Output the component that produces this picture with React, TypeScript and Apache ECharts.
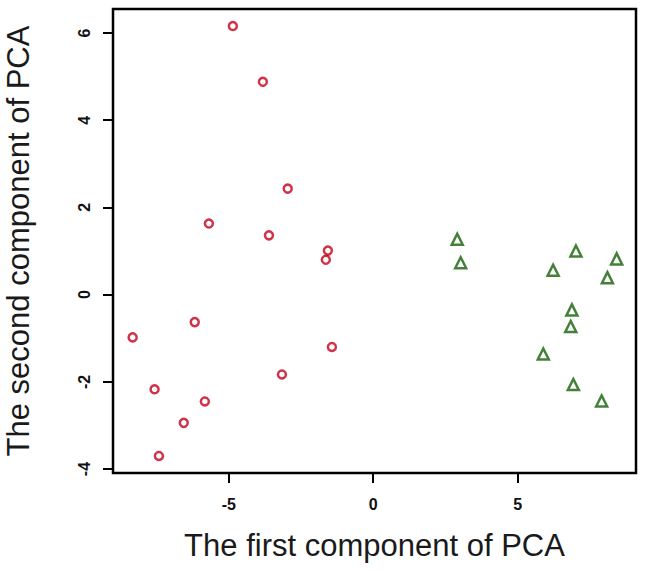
import React, { useEffect, useRef } from "react";
import * as echarts from "echarts";

const groupAX = [-4.86, -3.82, -2.96, -5.69, -3.61, -1.57, -1.64, -6.18, -8.33, -1.43, -3.16, -7.57, -5.83, -6.56, -7.42];
const groupAY = [6.16, 4.88, 2.43, 1.63, 1.36, 1.01, 0.8, -0.63, -0.98, -1.2, -1.83, -2.17, -2.45, -2.94, -3.7];

const groupBX = [2.91, 3.03, 7.02, 8.43, 6.23, 8.11, 6.88, 6.84, 5.89, 6.93, 7.91];
const groupBY = [1.27, 0.73, 1.0, 0.82, 0.56, 0.39, -0.35, -0.73, -1.36, -2.06, -2.44];

const xTicks = [-5, 0, 5];
const yTicks = [-4, -2, 0, 2, 4, 6];

const xName = "The first component of PCA";
const yName = "The second component of PCA";

export default function App() {
  const ref = useRef<HTMLDivElement>(null);
  useEffect(() => {
    if (!ref.current) return;
    const chart = echarts.init(ref.current, undefined, { renderer: "svg" });
    const font = "'Liberation Sans', Arial, Helvetica, sans-serif";
    chart.setOption({
      animation: false,
      backgroundColor: "#ffffff",
      grid: {
        left: 113,
        right: 10,
        top: 9,
        bottom: 98,
        show: true,
        borderColor: "#000",
        borderWidth: 2.5,
        backgroundColor: "transparent",
        containLabel: false,
        outerBoundsMode: "none",
      },
      xAxis: {
        type: "value",
        min: -9.01,
        max: 9.1,
        name: xName,
        nameLocation: "middle",
        nameGap: 57,
        nameTextStyle: { fontFamily: font, fontSize: 31, color: "#1a1a1a" },
        axisLine: { show: false, onZero: false },
        axisTick: { show: true, inside: false, length: 10, customValues: xTicks, lineStyle: { color: "#000", width: 2 } },
        axisLabel: { show: true, customValues: xTicks, fontFamily: font, fontSize: 16, fontWeight: "bold", color: "#111", margin: 23 },
        splitLine: { show: false },
      },
      yAxis: {
        type: "value",
        min: -4.09,
        max: 6.55,
        name: yName,
        nameLocation: "middle",
        nameGap: 79,
        nameRotate: 90,
        nameTextStyle: { fontFamily: font, fontSize: 31, color: "#1a1a1a" },
        axisLine: { show: false, onZero: false },
        axisTick: { show: true, inside: false, length: 10, customValues: yTicks, lineStyle: { color: "#000", width: 2 } },
        axisLabel: { show: true, customValues: yTicks, rotate: 90, fontFamily: font, fontSize: 16, fontWeight: "bold", color: "#111", margin: 21 },
        splitLine: { show: false },
      },
      series: [
        {
          type: "scatter",
          data: groupAX.map((x, i) => [x, groupAY[i]]),
          symbol: "circle",
          symbolSize: 8,
          itemStyle: { color: "#ffffff", borderColor: "#c4001c", borderWidth: 2.5 },
        },
        {
          type: "scatter",
          data: groupBX.map((x, i) => [x, groupBY[i]]),
          symbol: "triangle",
          symbolSize: 11,
          itemStyle: { color: "#ffffff", borderColor: "#146006", borderWidth: 2.5 },
        },
      ],
    });
    return () => chart.dispose();
  }, []);
  return <div ref={ref} style={{ width: 646, height: 571, position: "absolute", left: 0, top: 0 }} />;
}
